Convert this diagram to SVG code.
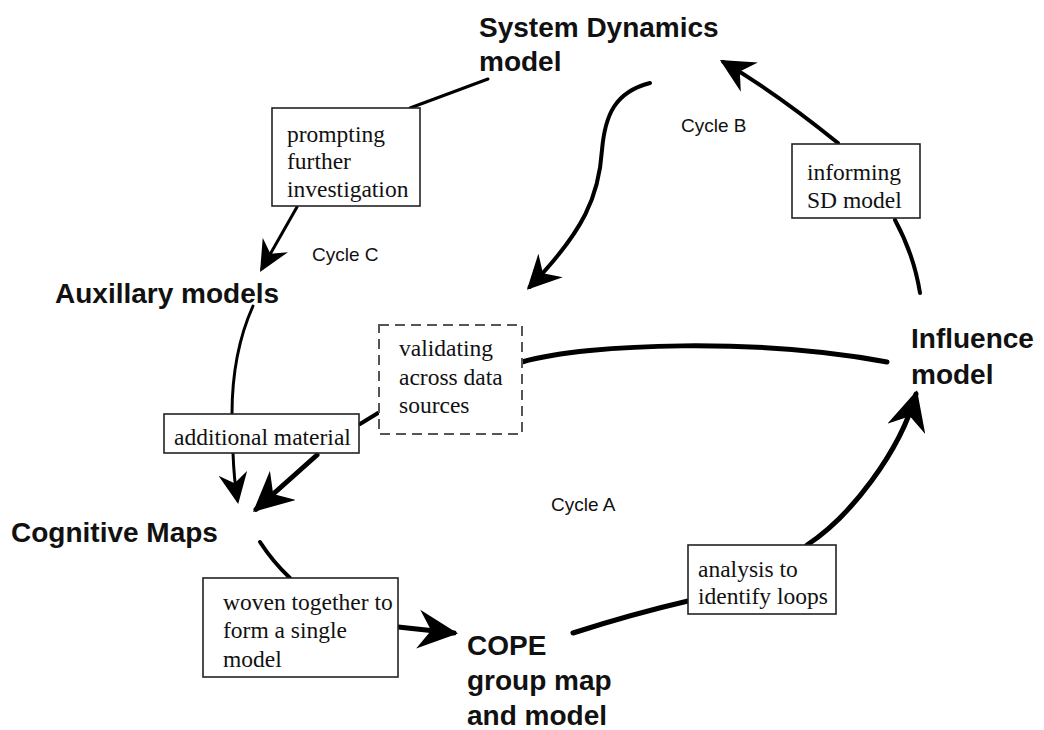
<svg xmlns="http://www.w3.org/2000/svg" width="1044" height="730" viewBox="0 0 1044 730">
  <style>
    .node { font-family: "Liberation Sans", Arial, sans-serif; font-weight: bold; font-size: 28px; fill: #111; }
    .note { font-family: "Liberation Serif", "Times New Roman", serif; font-size: 23.5px; fill: #111; }
    .cycle { font-family: "Liberation Sans", Arial, sans-serif; font-size: 19px; fill: #111; }
    .box { fill: #fff; stroke: #222; stroke-width: 1.6; }
    .box-dashed { fill: #fff; stroke: #555; stroke-width: 2; stroke-dasharray: 10 6; }
    .link { fill: none; stroke: #000; stroke-linecap: round; }
    .thin { stroke-width: 3; }
    .mid { stroke-width: 4; }
    .thick { stroke-width: 5; }
  </style>
  <defs>
    <marker id="arrow-s" viewBox="0 0 31 29" refX="27" refY="14.5" markerWidth="31" markerHeight="29" markerUnits="userSpaceOnUse" orient="auto">
      <path d="M0,0 L31,14.5 L0,29 L10,14.5 Z" fill="#000"/>
    </marker>
    <marker id="arrow-m" viewBox="0 0 34 34" refX="30" refY="17" markerWidth="34" markerHeight="34" markerUnits="userSpaceOnUse" orient="auto">
      <path d="M0,0 L34,17 L0,34 L11,17 Z" fill="#000"/>
    </marker>
    <marker id="arrow-l" viewBox="0 0 40 39" refX="36" refY="19.5" markerWidth="40" markerHeight="39" markerUnits="userSpaceOnUse" orient="auto">
      <path d="M0,0 L40,19.5 L0,39 L13,19.5 Z" fill="#000"/>
    </marker>
  </defs>

  <rect width="1044" height="730" fill="#fff"/>

  <!-- connectors -->
  <g id="connectors">
    <!-- SD model to prompting box, then on to auxiliary models -->
    <path class="link thin" d="M488,79 L410,108"/>
    <path class="link thin" d="M297,207 L262,268.5" marker-end="url(#arrow-s)"/>
    <!-- auxiliary models through additional material to cognitive maps -->
    <path class="link thin" d="M253,306 C240,335 232,370 232,414"/>
    <path class="link thin" d="M233,453 Q234,480 237.5,500" marker-end="url(#arrow-s)"/>
    <!-- influence model through validation to cognitive maps -->
    <path class="link thick" d="M522,362 C590,343 760,338 887,362"/>
    <path class="link mid" d="M360,424 L378,413"/>
    <path class="link thick" d="M317,455 L256,509.3" marker-end="url(#arrow-l)"/>
    <!-- cognitive maps woven into COPE -->
    <path class="link mid" d="M260,542 Q273,562 290,578"/>
    <path class="link thick" d="M398,627 L454,633" marker-end="url(#arrow-l)"/>
    <!-- COPE analysed into influence model -->
    <path class="link thick" d="M573,633 Q632,614 688,601"/>
    <path class="link thick" d="M807,545 C850,517 900,452 916,394" marker-end="url(#arrow-l)"/>
    <!-- influence model informing SD model -->
    <path class="link mid" d="M895,220 Q914,255 920,293"/>
    <path class="link mid" d="M838,143 Q775,92 723.4,62" marker-end="url(#arrow-m)"/>
    <!-- SD model feeding back (cycle B) -->
    <path class="link mid" d="M650,83 C615,92 605,115 602,150 C599,195 585,230 529.7,287" marker-end="url(#arrow-m)"/>
  </g>

  <!-- model nodes -->
  <g id="node-sd">
    <text class="node" x="479" y="37">System Dynamics</text>
    <text class="node" x="479" y="71">model</text>
  </g>
  <g id="node-aux">
    <text class="node" x="55" y="303">Auxillary models</text>
  </g>
  <g id="node-cog">
    <text class="node" x="11" y="542">Cognitive Maps</text>
  </g>
  <g id="node-cope">
    <text class="node" x="467" y="655">COPE</text>
    <text class="node" x="467" y="690">group map</text>
    <text class="node" x="467" y="725">and model</text>
  </g>
  <g id="node-influence">
    <text class="node" x="911" y="348">Influence</text>
    <text class="node" x="911" y="384">model</text>
  </g>

  <!-- link annotations -->
  <g id="label-prompting">
    <rect class="box" x="272" y="108" width="148" height="98"/>
    <text class="note" x="287" y="142">prompting</text>
    <text class="note" x="287" y="169">further</text>
    <text class="note" x="287" y="197">investigation</text>
  </g>
  <g id="label-additional">
    <rect class="box" x="164" y="414" width="195" height="39"/>
    <text class="note" x="174" y="445">additional material</text>
  </g>
  <g id="label-validating">
    <rect class="box-dashed" x="379" y="325" width="143" height="109"/>
    <text class="note" x="399" y="356">validating</text>
    <text class="note" x="399" y="385">across data</text>
    <text class="note" x="399" y="413">sources</text>
  </g>
  <g id="label-woven">
    <rect class="box" x="203" y="578" width="195" height="99"/>
    <text class="note" x="223" y="610">woven together to</text>
    <text class="note" x="223" y="638">form a single</text>
    <text class="note" x="223" y="667">model</text>
  </g>
  <g id="label-analysis">
    <rect class="box" x="688" y="545" width="148" height="69"/>
    <text class="note" x="698" y="577">analysis to</text>
    <text class="note" x="698" y="604">identify loops</text>
  </g>
  <g id="label-informing">
    <rect class="box" x="792" y="144" width="128" height="74"/>
    <text class="note" x="807" y="180">informing</text>
    <text class="note" x="807" y="208">SD model</text>
  </g>

  <!-- cycle names -->
  <g id="cycles">
    <text class="cycle" x="312" y="261">Cycle C</text>
    <text class="cycle" x="681" y="132">Cycle B</text>
    <text class="cycle" x="551" y="511">Cycle A</text>
  </g>
</svg>
